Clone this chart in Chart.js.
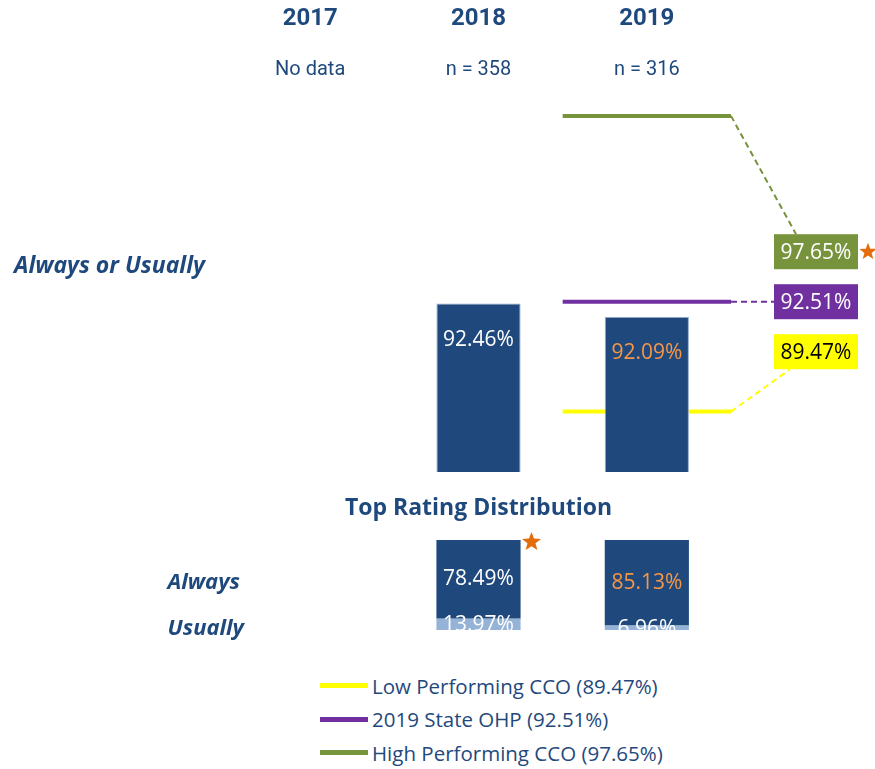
<!DOCTYPE html>
<html>
<head>
<meta charset="utf-8">
<script src="https://cdn.jsdelivr.net/npm/chart.js@4"></script>
<style>
  body { margin: 0; background: #fff; width: 875px; height: 769px; position: relative; overflow: hidden; font-family: "Open Sans", sans-serif; }
  #top { position: absolute; left: 0; top: 0; }
  #bottom { position: absolute; left: 0; top: 480px; }
  #legend { position: absolute; left: 320px; top: 669px; color: #1F497D; font-size: 20.5px; }
  .item { height: 33.5px; display: flex; align-items: center; }
  .swatch { width: 48px; height: 5px; margin-right: 4px; }
</style>
</head>
<body>
<canvas id="top" width="875" height="480"></canvas>
<canvas id="bottom" width="875" height="170"></canvas>
<div id="legend"></div>
<script>
// data
const years = ['2017', '2018', '2019'];
const sampleSizes = ['No data', 'n = 358', 'n = 316'];
const alwaysOrUsually = [null, 92.46, 92.09];
const alwaysShare = [null, 78.49, 85.13];
const usuallyShare = [null, 13.97, 6.96];
const benchmarkNames = ['Low Performing CCO', '2019 State OHP', 'High Performing CCO'];
const benchmarkValues = [89.47, 92.51, 97.65];

// styles
const navy = '#1F497D';
const orange = '#F79646';
const benchColors = ['#FFFF00', '#7030A0', '#77933C'];
const boxText = ['#000000', '#ffffff', '#ffffff'];
const barLabelColors = ['#ffffff', '#ffffff', orange];
const bottomLabelColors = ['#ffffff', '#ffffff', orange];

function star(ctx, cx, cy, r, color) {
  ctx.save();
  ctx.beginPath();
  for (let i = 0; i < 10; i++) {
    const rad = i % 2 ? r * 0.42 : r;
    const a = -Math.PI / 2 + i * Math.PI / 5;
    ctx.lineTo(cx + rad * Math.cos(a), cy + rad * Math.sin(a));
  }
  ctx.closePath();
  ctx.fillStyle = color;
  ctx.fill();
  ctx.restore();
}

const lastCol = years.length - 1;
const lineSets = benchmarkValues.map((v, i) => ({
  type: 'line',
  label: benchmarkNames[i],
  xAxisID: 'x2',
  data: [{x: lastCol, y: v}, {x: lastCol + 1, y: v}],
  borderColor: benchColors[i],
  borderWidth: 4,
  pointRadius: 0,
  clip: false
}));

// headers, bar labels, benchmark boxes
const topDeco = {
  id: 'topDeco',
  afterDatasetsDraw(chart) {
    const ctx = chart.ctx;
    const x = chart.scales.x, y = chart.scales.y, x2 = chart.scales.x2;
    ctx.save();
    ctx.textAlign = 'center';
    ctx.textBaseline = 'middle';
    years.forEach((yr, i) => {
      const cx = x.getPixelForValue(i);
      ctx.fillStyle = navy;
      ctx.font = 'bold 24px Roboto, sans-serif';
      ctx.fillText(yr, cx, 19);
      ctx.font = '20px Roboto, sans-serif';
      ctx.fillText(sampleSizes[i], cx, 70);
    });
    // bar values
    const meta = chart.getDatasetMeta(0);
    ctx.font = '21px "Open Sans", sans-serif';
    meta.data.forEach((bar, i) => {
      if (alwaysOrUsually[i] == null) return;
      ctx.fillStyle = barLabelColors[i];
      ctx.fillText(alwaysOrUsually[i].toFixed(2) + '%', bar.x, bar.y + 36);
    });
    // benchmark boxes with dashed connectors
    const endX = x2.getPixelForValue(lastCol + 1);
    const midY = y.getPixelForValue(benchmarkValues[1]);
    const boxX = endX + 43, boxW = 84, boxH = 35;
    benchmarkValues.forEach((v, i) => {
      const py = y.getPixelForValue(v);
      const cy = midY + (1 - i) * 50;
      let tx, ty;
      if (cy - py > 10) { tx = boxX + 22; ty = cy - boxH / 2; }
      else if (py - cy > 10) { tx = boxX + 16; ty = cy + boxH / 2; }
      else { tx = boxX; ty = py; }
      ctx.strokeStyle = benchColors[i];
      ctx.lineWidth = 2;
      ctx.setLineDash([6, 4]);
      ctx.beginPath();
      ctx.moveTo(endX, py);
      ctx.lineTo(tx, ty);
      ctx.stroke();
      ctx.setLineDash([]);
      ctx.fillStyle = benchColors[i];
      ctx.fillRect(boxX, cy - boxH / 2, boxW, boxH);
      ctx.fillStyle = boxText[i];
      ctx.fillText(v.toFixed(2) + '%', boxX + boxW / 2, cy + 1);
    });
    star(ctx, boxX + boxW + 10, midY - 50, 9, '#E46C0A');
    // row label
    ctx.textAlign = 'left';
    ctx.fillStyle = navy;
    ctx.font = 'italic bold 23px "Open Sans", sans-serif';
    ctx.fillText('Always or Usually', 14, 266);
    ctx.restore();
  }
};

new Chart(document.getElementById('top'), {
  type: 'bar',
  data: {
    labels: years,
    datasets: [{
      label: 'Always or Usually',
      data: alwaysOrUsually,
      backgroundColor: navy,
      borderColor: '#8FA8C8',
      borderWidth: 1,
      grouped: false,
      categoryPercentage: 1,
      barPercentage: 0.5
    }].concat(lineSets)
  },
  options: {
    responsive: false,
    animation: false,
    layout: { padding: { left: 226, right: 144, top: 96, bottom: 8 } },
    scales: {
      x: { display: false, offset: true },
      x2: { type: 'linear', display: false, offset: false, min: 0, max: years.length },
      y: { display: false, min: 87.8, max: 98.2 }
    },
    plugins: { legend: { display: false }, tooltip: { enabled: false } }
  },
  plugins: [topDeco]
});

const bottomDeco = {
  id: 'bottomDeco',
  afterDatasetsDraw(chart) {
    const ctx = chart.ctx;
    const x = chart.scales.x;
    const area = chart.chartArea;
    ctx.save();
    ctx.textAlign = 'center';
    ctx.textBaseline = 'middle';
    ctx.fillStyle = navy;
    ctx.font = 'bold 23px "Open Sans", sans-serif';
    ctx.fillText('Top Rating Distribution', x.getPixelForValue(1), 28);
    ctx.font = 'italic bold 22px "Open Sans", sans-serif';
    ctx.textAlign = 'right';
    ctx.fillText('Always', 240, 103);
    ctx.fillText('Usually', 244, 149);
    ctx.textAlign = 'center';
    ctx.beginPath();
    ctx.rect(area.left, area.top, area.right - area.left, area.bottom - area.top);
    ctx.clip();
    ctx.font = '21px "Open Sans", sans-serif';
    [alwaysShare, usuallyShare].forEach((arr, d) => {
      chart.getDatasetMeta(d).data.forEach((bar, i) => {
        if (arr[i] == null) return;
        ctx.fillStyle = d === 0 ? bottomLabelColors[i] : '#ffffff';
        ctx.fillText(arr[i].toFixed(2) + '%', bar.x, (bar.y + bar.base) / 2);
      });
    });
    ctx.restore();
    const b = chart.getDatasetMeta(0).data[1];
    star(ctx, b.x + 53, area.top + 2, 10, '#E46C0A');
  }
};

new Chart(document.getElementById('bottom'), {
  type: 'bar',
  data: {
    labels: years,
    datasets: [
      { label: 'Always', data: alwaysShare, backgroundColor: navy, categoryPercentage: 1, barPercentage: 0.5 },
      { label: 'Usually', data: usuallyShare, backgroundColor: '#95B3D7', categoryPercentage: 1, barPercentage: 0.5 }
    ]
  },
  options: {
    responsive: false,
    animation: false,
    layout: { padding: { left: 226, right: 144, top: 60, bottom: 20 } },
    scales: {
      x: { display: false, stacked: true },
      y: { display: false, stacked: true, reverse: true, min: 0, max: 90 }
    },
    plugins: { legend: { display: false }, tooltip: { enabled: false } }
  },
  plugins: [bottomDeco]
});

// legend
const legend = document.getElementById('legend');
benchmarkNames.forEach((name, i) => {
  const row = document.createElement('div');
  row.className = 'item';
  row.innerHTML = '<span class="swatch" style="background:' + benchColors[i] + '"></span>' +
    name + ' (' + benchmarkValues[i].toFixed(2) + '%)';
  legend.appendChild(row);
});
</script>
</body>
</html>
